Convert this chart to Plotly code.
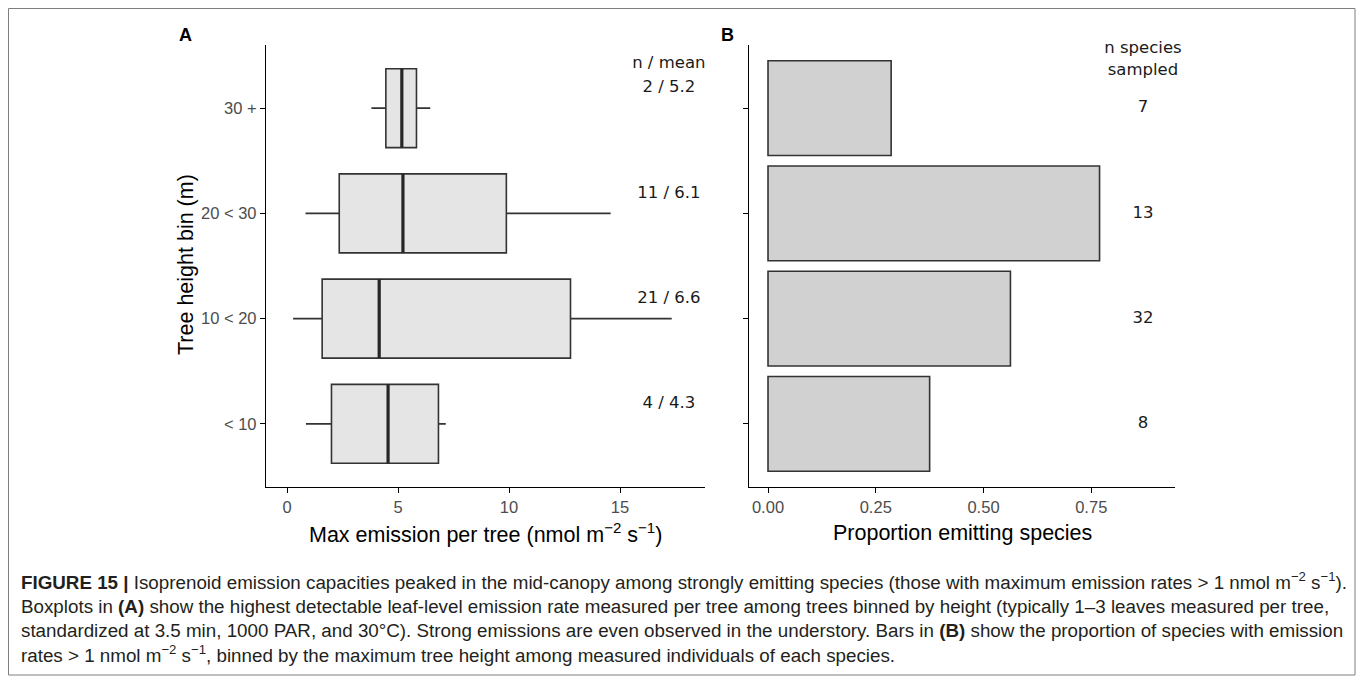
import plotly.graph_objects as go

# Tree height bins, bottom to top
bins = ["&lt; 10", "10 &lt; 20", "20 &lt; 30", "30 +"]
pos = [1, 2, 3, 4]

# Panel A: five-number summaries of max emission per tree (nmol m-2 s-1)
lower_whisker = [0.85, 0.27, 0.83, 3.8]
q1 = [2.0, 1.58, 2.35, 4.45]
median = [4.55, 4.15, 5.22, 5.17]
q3 = [6.82, 12.77, 9.88, 5.83]
upper_whisker = [7.15, 17.33, 14.58, 6.45]
n_trees = [4, 21, 11, 2]
mean_emission = [4.3, 6.6, 6.1, 5.2]

# Panel B: emitting species / species sampled per bin
n_emitting = [3, 18, 10, 2]
n_sampled = [8, 32, 13, 7]
proportion = [e / s for e, s in zip(n_emitting, n_sampled)]

W, H = 1357, 683


def px(x):
    return x / W


def py(y):
    return 1 - y / H


BOX_W = 0.75
BAR_W = 0.9
EDGE = "#333333"
TICK_FONT = dict(family="Liberation Sans, Arial, sans-serif", size=16.5, color="#4D4D4D")
LABEL_FONT = dict(family="DejaVu Sans, sans-serif", size=16.5, color="#1a1a1a")
TITLE_FONT = dict(family="Liberation Sans, Arial, sans-serif", size=21.5, color="black")
CAP_FONT = dict(family="Liberation Sans, Arial, sans-serif", size=18.8, color="#231F20")

fig = go.Figure()

# Boxplots (whiskers without caps, as in ggplot)
fig.add_trace(go.Box(
    y=pos, q1=q1, median=median, q3=q3,
    lowerfence=lower_whisker, upperfence=upper_whisker,
    orientation="h", width=BOX_W, whiskerwidth=0,
    fillcolor="#E5E5E5", line=dict(color=EDGE, width=1.6),
    boxpoints=False, hoverinfo="skip", xaxis="x", yaxis="y",
))

# Thicker median lines
mx, my = [], []
for m, p in zip(median, pos):
    mx += [m, m, None]
    my += [p - BOX_W / 2, p + BOX_W / 2, None]
fig.add_trace(go.Scatter(x=mx, y=my, mode="lines", line=dict(color="#262626", width=3.2),
                         hoverinfo="skip", xaxis="x", yaxis="y"))

# n / mean labels
fig.add_trace(go.Scatter(
    x=[17.2] * 4 + [17.2], y=[p + 0.19 for p in pos] + [4.42],
    text=[f"{n} / {m}" for n, m in zip(n_trees, mean_emission)] + ["n / mean"],
    mode="text", textfont=LABEL_FONT, cliponaxis=False, hoverinfo="skip",
    xaxis="x", yaxis="y",
))

# Proportion bars
fig.add_trace(go.Bar(
    x=proportion, y=pos, orientation="h", width=BAR_W,
    marker=dict(color="#D1D1D1", line=dict(color=EDGE, width=1.6)),
    hoverinfo="skip", xaxis="x2", yaxis="y2",
))

# Species counts
fig.add_trace(go.Scatter(
    x=[0.87] * 4 + [0.87], y=pos + [4.46],
    text=[str(s) for s in n_sampled] + ["n species<br>sampled"],
    mode="text", textfont=LABEL_FONT, cliponaxis=False, hoverinfo="skip",
    xaxis="x2", yaxis="y2",
))

ydom = [py(487), py(45)]
axis_common = dict(showline=True, linecolor="black", linewidth=1.3, ticks="outside",
                   ticklen=5, tickwidth=1.3, tickcolor="black", showgrid=False,
                   zeroline=False, tickfont=TICK_FONT)

fig.update_layout(
    width=W, height=H, margin=dict(l=0, r=0, t=0, b=0),
    paper_bgcolor="white", plot_bgcolor="white", showlegend=False,
    xaxis=dict(domain=[px(266), px(705)], range=[-0.95, 18.83], anchor="y",
               tickvals=[0, 5, 10, 15], ticktext=["0", "5", "10", "15"], **axis_common),
    yaxis=dict(domain=ydom, range=[0.4, 4.6], anchor="x",
               tickvals=pos, ticktext=bins, **axis_common),
    xaxis2=dict(domain=[px(749), px(1175)], range=[-0.0441, 0.9443], anchor="y2",
                tickvals=[0, 0.25, 0.5, 0.75], ticktext=["0.00", "0.25", "0.50", "0.75"],
                **axis_common),
    yaxis2=dict(domain=ydom, range=[0.4, 4.6], anchor="x2",
                tickvals=pos, showticklabels=False, **axis_common),
)

annotations = [
    dict(x=px(185), y=py(35), text="<b>A</b>", font=dict(family="Liberation Sans, Arial", size=18, color="black")),
    dict(x=px(727), y=py(35), text="<b>B</b>", font=dict(family="Liberation Sans, Arial", size=18, color="black")),
    dict(x=px(186), y=py(265), text="Tree height bin (m)", textangle=-90, font=TITLE_FONT),
    dict(x=px(485.5), y=py(533), text="Max emission per tree (nmol m<sup>−2</sup> s<sup>−1</sup>)", font=TITLE_FONT),
    dict(x=px(962), y=py(533), text="Proportion emitting species", font=TITLE_FONT),
]

caption = [
    "<b>FIGURE 15 |</b> Isoprenoid emission capacities peaked in the mid-canopy among strongly emitting species "
    "(those with maximum emission rates &gt; 1 nmol m<sup>−2</sup> s<sup>−1</sup>).",
    "Boxplots in <b>(A)</b> show the highest detectable leaf-level emission rate measured per tree among trees "
    "binned by height (typically 1–3 leaves measured per tree,",
    "standardized at 3.5 min, 1000 PAR, and 30°C). Strong emissions are even observed in the understory. "
    "Bars in <b>(B)</b> show the proportion of species with emission",
    "rates &gt; 1 nmol m<sup>−2</sup> s<sup>−1</sup>, binned by the maximum tree height among measured "
    "individuals of each species.",
]
for line, yc in zip(caption, [581, 606, 630, 654]):
    annotations.append(dict(x=px(19), y=py(yc), text=line, xanchor="left", font=CAP_FONT))

for a in annotations:
    a.setdefault("xanchor", "center")
    a.update(xref="paper", yref="paper", yanchor="middle", showarrow=False)
fig.update_layout(annotations=annotations)

# Outer frame around figure and caption
fig.add_shape(type="rect", xref="paper", yref="paper",
              x0=px(8.5), x1=px(1355), y0=py(675), y1=py(8.5),
              line=dict(color="#7f7f7f", width=1), fillcolor="rgba(0,0,0,0)")

fig.write_html("out.html")
